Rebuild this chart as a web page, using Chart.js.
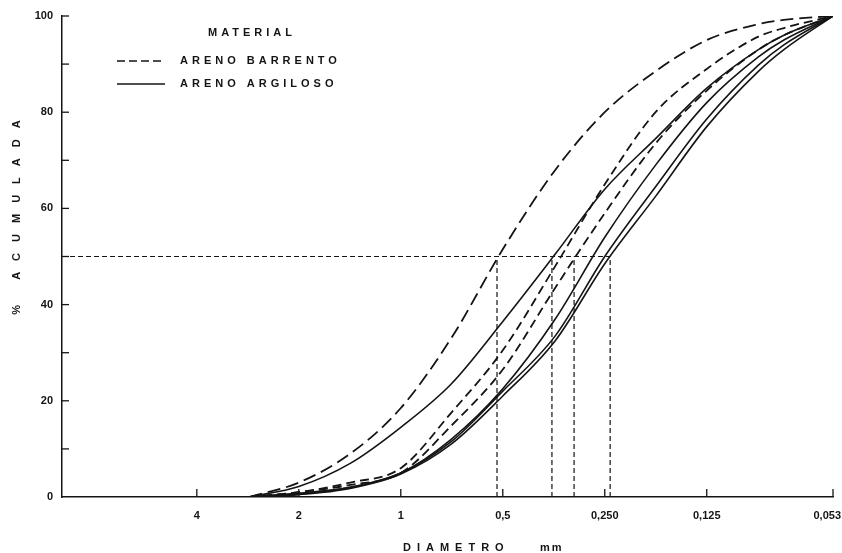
<!DOCTYPE html>
<html>
<head>
<meta charset="utf-8">
<title>Granulometria</title>
<script src="https://cdn.jsdelivr.net/npm/chart.js@4.4.1/dist/chart.umd.min.js"></script>
<style>
  body { margin: 0; background: #fff; }
  canvas { display: block; }
</style>
</head>
<body>
<canvas id="chart" width="842" height="553"></canvas>
<script>
// diameters (mm) where the curves were read
const diameters = [2.8, 2, 1.41, 1, 0.71, 0.5, 0.35, 0.25, 0.177, 0.125, 0.088, 0.074, 0.053];

// areno barrento (dashed)
const barrento1 = [0, 3, 9, 18.5, 33, 51.5, 68, 80, 88.5, 95, 98.3, 99.2, 100];
const barrento2 = [0, 1, 3, 6, 17.5, 30.5, 48, 65, 80, 89, 95.7, 97.5, 100];
const barrento3 = [0, 1, 2.5, 5, 14.8, 26.5, 43.5, 59, 73.5, 84.5, 93, 96, 100];

// areno argiloso (solid)
const argiloso1 = [0, 2.2, 7, 14.5, 23.5, 36.5, 50.5, 64, 74.5, 85, 93, 96, 100];
const argiloso2 = [0, 0.8, 2, 5, 12, 22.5, 37, 54, 69, 82, 91.5, 95, 100];
const argiloso3 = [0, 0.6, 2, 5, 11.5, 22, 33.5, 50, 64.5, 78.6, 89.8, 94, 100];
const argiloso4 = [0, 0.5, 1.8, 4.8, 11, 21, 32.5, 48.5, 62.5, 77, 88.5, 93, 100];

// D50 guide lines
const d50Level = 50;
const d50Values = [0.52, 0.358, 0.308, 0.241];

const xTickValues = [4, 2, 1, 0.5, 0.25, 0.125, 0.053];
const xTickLabels = ['4', '2', '1', '0,5', '0,250', '0,125', '0,053'];
const yTickValues = [0, 20, 40, 60, 80, 100];

const legendTitle = 'MATERIAL';
const legendLabels = ['ARENO BARRENTO', 'ARENO ARGILOSO'];
const xTitle = ['DIAMETRO', 'mm'];
const yTitle = '% ACUMULADA';

const ink = '#141414';
const font = '"Liberation Sans", Arial, sans-serif';
const lastTick = xTickValues[xTickValues.length - 1];

const toPoints = vals => diameters.map((d, i) => ({ x: d, y: vals[i] }));

function curve(vals, dash) {
  return {
    data: toPoints(vals),
    borderColor: ink,
    borderWidth: dash ? 1.8 : 1.6,
    borderDash: dash || [],
    pointRadius: 0,
    fill: false,
    cubicInterpolationMode: 'monotone'
  };
}

function guide(points) {
  return {
    data: points,
    borderColor: ink,
    borderWidth: 1.2,
    borderDash: [5, 3],
    pointRadius: 0,
    tension: 0,
    fill: false
  };
}

const datasets = [
  curve(barrento1, [13, 6]),
  curve(barrento2, [9, 5]),
  curve(barrento3, [9, 5]),
  curve(argiloso1),
  curve(argiloso2),
  curve(argiloso3),
  curve(argiloso4),
  guide([{ x: 10, y: d50Level }, { x: Math.min(...d50Values), y: d50Level }]),
  ...d50Values.map(d => guide([{ x: d, y: 0 }, { x: d, y: d50Level }]))
];

// inward tick marks, legend and axis titles
const inkPlugin = {
  id: 'ink',
  afterDraw(chart) {
    const { ctx, chartArea: a, scales: { x, y } } = chart;
    ctx.save();
    ctx.strokeStyle = ink;
    ctx.fillStyle = ink;
    ctx.lineWidth = 1.3;
    const seg = (x1, y1, x2, y2) => { ctx.beginPath(); ctx.moveTo(x1, y1); ctx.lineTo(x2, y2); ctx.stroke(); };

    for (let v = 10; v <= 100; v += 10) {
      const py = y.getPixelForValue(v);
      seg(a.left, py, a.left + 7, py);
    }
    xTickValues.forEach(v => {
      const px = x.getPixelForValue(v);
      seg(px, a.bottom, px, a.bottom - 8);
    });

    // last x label sits at the canvas edge, keep it inside
    ctx.font = 'bold 11px ' + font;
    ctx.textAlign = 'right';
    ctx.textBaseline = 'top';
    ctx.fillText(xTickLabels[xTickLabels.length - 1], 841, a.bottom + 13);

    // legend
    ctx.textBaseline = 'middle';
    ctx.letterSpacing = '4px';
    ctx.textAlign = 'left';
    ctx.fillText(legendTitle, 208, 33);
    [[8, 4], []].forEach((dash, i) => {
      const ly = 61 + i * 23;
      ctx.setLineDash(dash);
      ctx.lineWidth = 1.6;
      seg(117, ly, 165, ly);
      ctx.setLineDash([]);
      ctx.fillText(legendLabels[i], 180, ly);
    });

    // x title
    ctx.letterSpacing = '6px';
    ctx.fillText(xTitle[0], 403, 548);
    ctx.letterSpacing = '2px';
    ctx.fillText(xTitle[1], 540, 548);

    // y title
    ctx.translate(17, 212);
    ctx.rotate(-Math.PI / 2);
    ctx.textAlign = 'center';
    ctx.letterSpacing = '11px';
    ctx.fillText(yTitle, 0, 0);
    ctx.restore();
  }
};

new Chart(document.getElementById('chart'), {
  type: 'line',
  data: { datasets },
  plugins: [inkPlugin],
  options: {
    responsive: false,
    animation: false,
    devicePixelRatio: 1,
    layout: { padding: { top: 16, right: 9, bottom: 0, left: 0 } },
    plugins: { legend: { display: false }, tooltip: { enabled: false } },
    scales: {
      x: {
        type: 'logarithmic',
        reverse: true,
        min: 0.053,
        max: 10,
        grid: { display: false, drawTicks: false },
        border: { display: true, color: ink, width: 1.5 },
        afterBuildTicks: s => { s.ticks = xTickValues.map(v => ({ value: v })); },
        afterFit: s => { s.height = 56; s.paddingLeft = 0; s.paddingRight = 0; },
        ticks: {
          color: ink,
          padding: 12,
          autoSkip: false,
          maxRotation: 0,
          font: { family: font, size: 11, weight: 'bold' },
          callback: (v) => v === lastTick ? '' : xTickLabels[xTickValues.indexOf(v)]
        }
      },
      y: {
        min: 0,
        max: 100,
        grid: { display: false, drawTicks: false },
        border: { display: true, color: ink, width: 1.5 },
        afterBuildTicks: s => { s.ticks = yTickValues.map(v => ({ value: v })); },
        afterFit: s => { s.width = 62; s.paddingTop = 0; s.paddingBottom = 0; },
        ticks: {
          color: ink,
          padding: 9,
          font: { family: font, size: 11, weight: 'bold' }
        }
      }
    }
  }
});
</script>
</body>
</html>
